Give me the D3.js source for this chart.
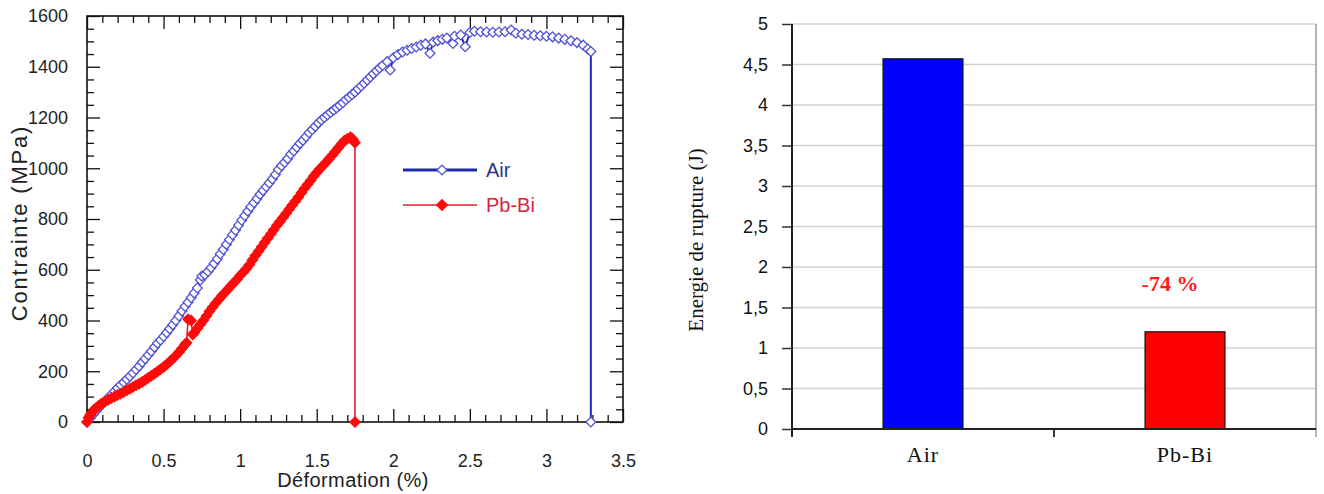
<!DOCTYPE html>
<html>
<head>
<meta charset="utf-8">
<script src="https://cdn.jsdelivr.net/npm/d3@7"></script>
<style>
  html, body { margin: 0; padding: 0; background: #fff; }
  svg { display: block; }
</style>
</head>
<body>
<script>
// ---------------- DATA ----------------
// Left chart: stress-strain curves (strain %, stress MPa)
const airStrain = [0,0.02,0.04,0.06,0.08,0.10,0.12,0.14,0.16,0.18,0.20,0.22,0.24,0.26,0.28,0.30,0.32,0.34,0.36,0.38,0.40,0.42,0.44,0.46,0.48,0.50,0.52,0.54,0.56,0.58,0.60,0.62,0.64,0.66,0.68,0.70,0.72,0.74,0.75,0.77,0.79,0.81,0.83,0.85,0.87,0.89,0.91,0.93,0.95,0.97,0.99,1.01,1.03,1.05,1.07,1.09,1.11,1.13,1.15,1.17,1.19,1.21,1.23,1.25,1.27,1.29,1.31,1.33,1.35,1.37,1.39,1.41,1.43,1.45,1.47,1.49,1.51,1.53,1.55,1.57,1.59,1.61,1.63,1.65,1.67,1.69,1.71,1.73,1.75,1.77,1.79,1.81,1.83,1.85,1.87,1.89,1.91,1.93,1.96,1.98,2.00,2.03,2.06,2.09,2.12,2.15,2.18,2.21,2.24,2.26,2.29,2.32,2.35,2.39,2.40,2.44,2.47,2.50,2.53,2.57,2.61,2.65,2.69,2.73,2.77,2.80,2.84,2.88,2.92,2.96,3.00,3.04,3.08,3.12,3.16,3.20,3.24,3.27,3.29,3.29];
const airStress = [0,15,30,43,57,70,83,96,108,121,134,146,157,168,180,193,207,220,235,249,264,279,295,310,323,337,352,367,383,400,418,437,455,472,490,508,528,560,575,580,593,608,625,642,662,680,700,719,738,756,775,795,813,831,848,864,880,897,912,927,942,958,975,995,1010,1023,1037,1055,1068,1083,1098,1110,1124,1140,1152,1165,1178,1190,1200,1210,1220,1229,1238,1248,1258,1270,1280,1290,1300,1312,1324,1335,1348,1360,1372,1384,1395,1405,1420,1387,1435,1448,1458,1465,1472,1478,1485,1490,1453,1497,1503,1508,1513,1492,1520,1525,1479,1535,1540,1538,1537,1536,1537,1538,1545,1532,1528,1527,1524,1522,1520,1518,1513,1508,1502,1495,1485,1470,1460,0];

const pbStrain = [0,0.01,0.02,0.03,0.04,0.05,0.06,0.07,0.08,0.09,0.10,0.12,0.14,0.16,0.18,0.20,0.22,0.24,0.26,0.28,0.30,0.32,0.34,0.36,0.38,0.40,0.42,0.44,0.46,0.48,0.50,0.52,0.54,0.56,0.58,0.60,0.62,0.64,0.65,0.66,0.68,0.69,0.70,0.72,0.74,0.76,0.78,0.80,0.82,0.84,0.86,0.88,0.90,0.92,0.94,0.96,0.98,1.00,1.02,1.04,1.06,1.08,1.10,1.12,1.14,1.16,1.18,1.20,1.22,1.24,1.26,1.28,1.30,1.32,1.34,1.36,1.38,1.40,1.42,1.44,1.46,1.48,1.50,1.52,1.54,1.56,1.58,1.60,1.62,1.64,1.66,1.68,1.70,1.72,1.73,1.74,1.75,1.75];
const pbStress = [0,18,28,35,43,50,55,60,65,70,74,82,88,95,100,106,111,118,125,131,138,145,151,158,166,174,182,190,199,208,217,227,238,249,261,275,290,305,312,405,400,345,352,368,384,400,418,436,452,468,483,497,510,523,537,550,563,577,590,604,620,638,656,673,690,707,724,741,758,775,790,806,822,838,854,870,886,903,920,936,952,968,983,997,1010,1023,1036,1050,1065,1080,1095,1108,1116,1122,1118,1110,1100,0];

const xTicksL = [0,0.5,1,1.5,2,2.5,3,3.5];
const xMinorL = [0.1,0.2,0.3,0.4,0.6,0.7,0.8,0.9,1.1,1.2,1.3,1.4,1.6,1.7,1.8,1.9,2.1,2.2,2.3,2.4,2.6,2.7,2.8,2.9,3.1,3.2,3.3,3.4];
const yTicksL = [0,200,400,600,800,1000,1200,1400,1600];
const yMinorL = [50,100,150,250,300,350,450,500,550,650,700,750,850,900,950,1050,1100,1150,1250,1300,1350,1450,1500,1550];
const legendLabels = ["Air", "Pb-Bi"];
const xTitleL = "Déformation (%)";
const yTitleL = "Contrainte (MPa)";

// Right chart: rupture energy
const categories = ["Air", "Pb-Bi"];
const energies = [4.57, 1.2];
const yTicksR = [0,0.5,1,1.5,2,2.5,3,3.5,4,4.5,5];
const yTickLabelsR = ["0","0,5","1","1,5","2","2,5","3","3,5","4","4,5","5"];
const yTitleR = "Energie de rupture (J)";
const annotation = "-74 %";
const annotationValue = 1.8;

// ---------------- DRAW ----------------
const W = 1324, H = 494;
const svg = d3.select("body").append("svg").attr("width", W).attr("height", H);
svg.append("rect").attr("width", W).attr("height", H).attr("fill", "#fff");

// ===== LEFT CHART =====
const L = {left: 87, right: 623, top: 16, bottom: 422};
const xL = d3.scaleLinear().domain([0, 3.5]).range([L.left, L.right]);
const yL = d3.scaleLinear().domain([0, 1600]).range([L.bottom, L.top]);
const gL = svg.append("g");

const tickStyle = g => {
  g.select(".domain").remove();
  g.selectAll(".tick line").attr("stroke", "#111").attr("stroke-width", 1.3);
  g.selectAll(".tick text").attr("fill", "#222")
    .style("font-family", "'Liberation Sans', Arial, sans-serif")
    .style("font-size", "18px");
};

gL.append("g").attr("transform", `translate(0,${L.bottom})`)
  .call(d3.axisBottom(xL).tickValues(xTicksL).tickSize(-13).tickPadding(32).tickFormat(d => String(d)))
  .call(tickStyle);
gL.append("g").attr("transform", `translate(0,${L.bottom})`)
  .call(d3.axisBottom(xL).tickValues(xMinorL).tickSize(-7).tickFormat(""))
  .call(tickStyle);
gL.append("g").attr("transform", `translate(0,${L.top})`)
  .call(d3.axisTop(xL).tickValues(xTicksL).tickSize(-13).tickFormat(""))
  .call(tickStyle);
gL.append("g").attr("transform", `translate(0,${L.top})`)
  .call(d3.axisTop(xL).tickValues(xMinorL).tickSize(-7).tickFormat(""))
  .call(tickStyle);
gL.append("g").attr("transform", `translate(${L.left},0)`)
  .call(d3.axisLeft(yL).tickValues(yTicksL).tickSize(-13).tickPadding(19).tickFormat(d => String(d)))
  .call(tickStyle);
gL.append("g").attr("transform", `translate(${L.left},0)`)
  .call(d3.axisLeft(yL).tickValues(yMinorL).tickSize(-7).tickFormat(""))
  .call(tickStyle);
gL.append("g").attr("transform", `translate(${L.right},0)`)
  .call(d3.axisRight(yL).tickValues(yTicksL).tickSize(-13).tickFormat(""))
  .call(tickStyle);
gL.append("g").attr("transform", `translate(${L.right},0)`)
  .call(d3.axisRight(yL).tickValues(yMinorL).tickSize(-7).tickFormat(""))
  .call(tickStyle);

gL.append("rect").attr("x", L.left).attr("y", L.top)
  .attr("width", L.right - L.left).attr("height", L.bottom - L.top)
  .attr("fill", "none").attr("stroke", "#111").attr("stroke-width", 1.6);

// series
const airData = airStrain.map((s, i) => [s, airStress[i]]);
const pbData = pbStrain.map((s, i) => [s, pbStress[i]]);
const line = d3.line().x(d => xL(d[0])).y(d => yL(d[1]));
const diamond = d3.symbol().type(d3.symbolSquare).size(48);
const diamondRed = d3.symbol().type(d3.symbolSquare).size(56);

gL.append("path").datum(airData).attr("d", line)
  .attr("fill", "none").attr("stroke", "#2424c0").attr("stroke-width", 2);
gL.append("g").selectAll("path").data(airData).join("path")
  .attr("d", diamond)
  .attr("transform", d => `translate(${xL(d[0])},${yL(d[1])}) rotate(45)`)
  .attr("fill", "#fff").attr("stroke", "#5050d8").attr("stroke-width", 1.3);

gL.append("path").datum(pbData).attr("d", line)
  .attr("fill", "none").attr("stroke", "#e81c2c").attr("stroke-width", 1.6);
gL.append("g").selectAll("path").data(pbData).join("path")
  .attr("d", diamondRed)
  .attr("transform", d => `translate(${xL(d[0])},${yL(d[1])}) rotate(45)`)
  .attr("fill", "#ff0a0a").attr("stroke", "#ff0a0a").attr("stroke-width", 1);

// legend
const legColors = [
  {line: "#1f2aa6", width: 3, mFill: "#fff", mStroke: "#5050d8", text: "#2a3590", sym: diamond},
  {line: "#e0202c", width: 1.6, mFill: "#ff0a0a", mStroke: "#ff0a0a", text: "#dc2040", sym: diamondRed}
];
const leg = gL.append("g");
legendLabels.forEach((lab, i) => {
  const cy = 170 + i * 35;
  const c = legColors[i];
  leg.append("line").attr("x1", 403).attr("x2", 477).attr("y1", cy).attr("y2", cy)
    .attr("stroke", c.line).attr("stroke-width", c.width);
  leg.append("path").attr("d", c.sym)
    .attr("transform", `translate(442,${cy}) rotate(45)`)
    .attr("fill", c.mFill).attr("stroke", c.mStroke).attr("stroke-width", 1.3);
  leg.append("text").attr("x", 486).attr("y", cy).attr("dy", "0.36em")
    .attr("fill", c.text)
    .style("font-family", "'Liberation Sans', Arial, sans-serif")
    .style("font-size", "20px").text(lab);
});

// axis titles
gL.append("text").attr("x", (L.left + L.right) / 2 - 2).attr("y", 487)
  .attr("text-anchor", "middle").attr("fill", "#222")
  .style("font-family", "'Liberation Sans', Arial, sans-serif")
  .style("font-size", "20px").style("letter-spacing", "0.4px").text(xTitleL);
gL.append("text").attr("transform", `translate(27,223) rotate(-90)`)
  .attr("text-anchor", "middle").attr("fill", "#222")
  .style("font-family", "'Liberation Sans', Arial, sans-serif")
  .style("font-size", "22px").style("letter-spacing", "1.8px").text(yTitleL);

// ===== RIGHT CHART =====
const R = {left: 792, right: 1316, top: 24, bottom: 429};
const xR = d3.scaleBand().domain(categories).range([R.left, R.right])
  .paddingInner(0.695).paddingOuter(0.3475);
const yR = d3.scaleLinear().domain([0, 5]).range([R.bottom, R.top]);
const gR = svg.append("g");

gR.append("g").selectAll("line").data(yTicksR.filter(d => d > 0)).join("line")
  .attr("x1", R.left).attr("x2", R.right)
  .attr("y1", d => yR(d)).attr("y2", d => yR(d))
  .attr("stroke", "#d2d2d2").attr("stroke-width", 1.6);
gR.append("line").attr("x1", R.right).attr("x2", R.right)
  .attr("y1", R.top).attr("y2", R.bottom + 8)
  .attr("stroke", "#9a9a9a").attr("stroke-width", 1.5);

gR.append("g").selectAll("rect").data(categories).join("rect")
  .attr("x", d => xR(d))
  .attr("width", xR.bandwidth())
  .attr("y", (d, i) => yR(energies[i]))
  .attr("height", (d, i) => yR(0) - yR(energies[i]))
  .attr("fill", (d, i) => i === 0 ? "#0000ff" : "#ff0000")
  .attr("stroke", "#111").attr("stroke-width", 1.2);

const yAxR = gR.append("g").attr("transform", `translate(${R.left},0)`)
  .call(d3.axisLeft(yR).tickValues(yTicksR).tickSize(10).tickPadding(14)
    .tickFormat((d, i) => yTickLabelsR[i]));
yAxR.select(".domain").remove();
yAxR.selectAll(".tick line").attr("stroke", "#333").attr("stroke-width", 1.5);
yAxR.selectAll(".tick text").attr("fill", "#111")
  .style("font-family", "'Liberation Sans', Arial, sans-serif").style("font-size", "18px");
gR.append("line").attr("x1", R.left).attr("x2", R.left).attr("y1", R.top).attr("y2", R.bottom + 8)
  .attr("stroke", "#222").attr("stroke-width", 2);

gR.append("line").attr("x1", R.left).attr("x2", R.right).attr("y1", R.bottom).attr("y2", R.bottom)
  .attr("stroke", "#222").attr("stroke-width", 1.8);
const sepTicks = [R.left, (xR("Air") + xR.bandwidth() + xR("Pb-Bi")) / 2];
gR.append("g").selectAll("line").data(sepTicks).join("line")
  .attr("x1", d => d).attr("x2", d => d).attr("y1", R.bottom).attr("y2", R.bottom + 8)
  .attr("stroke", "#222").attr("stroke-width", 1.8);
gR.append("g").selectAll("text").data(categories).join("text")
  .attr("x", d => xR(d) + xR.bandwidth() / 2).attr("y", 462)
  .attr("text-anchor", "middle").attr("fill", "#111")
  .style("font-family", "'Liberation Serif', 'Times New Roman', serif")
  .style("font-size", "22px").style("letter-spacing", "1px").text(d => d);

gR.append("text")
  .attr("x", xR("Pb-Bi") + xR.bandwidth() / 2 - 15).attr("y", yR(annotationValue)).attr("dy", "0.35em")
  .attr("text-anchor", "middle").attr("fill", "#ff1a1a")
  .style("font-family", "'Liberation Serif', 'Times New Roman', serif")
  .style("font-weight", "bold").style("font-size", "22px").text(annotation);

gR.append("text").attr("transform", `translate(703,240) rotate(-90)`)
  .attr("text-anchor", "middle").attr("fill", "#111")
  .style("font-family", "'Liberation Serif', 'Times New Roman', serif")
  .style("font-size", "21px").text(yTitleR);
</script>
</body>
</html>
